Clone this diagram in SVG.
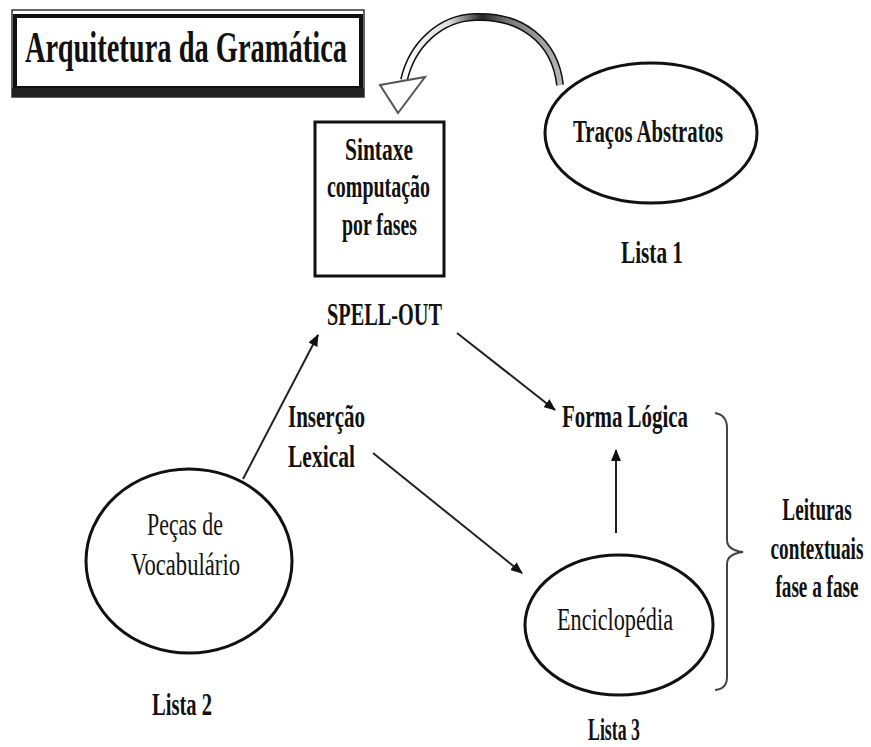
<svg xmlns="http://www.w3.org/2000/svg" width="871" height="747" viewBox="0 0 871 747">
<style>
text{font-family:"Liberation Serif","DejaVu Serif",serif;fill:#111}
.b{font-weight:bold}
.l{font-size:31px}
.node{fill:none;stroke:#111;stroke-width:3}
.con{stroke:#222;stroke-width:2;fill:none}
</style>
<defs>
<marker id="ah" markerWidth="12" markerHeight="10" refX="11" refY="5" orient="auto" markerUnits="userSpaceOnUse">
<path d="M0,0 L12,5 L0,10 Z" fill="#111"/>
</marker>
<linearGradient id="g" gradientUnits="userSpaceOnUse" x1="400" y1="0" x2="565" y2="0">
<stop offset="0" stop-color="#fff"/>
<stop offset="0.3" stop-color="#ddd"/>
<stop offset="0.5" stop-color="#222"/>
<stop offset="0.65" stop-color="#777"/>
<stop offset="1" stop-color="#bbb"/>
</linearGradient>
</defs>
<g id="title">
<rect x="12" y="10" width="352" height="87" fill="#fff" stroke="#333" stroke-width="1.5"/>
<rect x="15" y="16" width="346" height="72" fill="#fff" stroke="#111" stroke-width="4"/>
<rect x="12" y="88" width="352" height="9" fill="#222"/>
<text x="25" y="62" class="b" font-size="44" textLength="322" lengthAdjust="spacingAndGlyphs">Arquitetura da Gramática</text>
</g>
<g id="tracos">
<ellipse cx="651" cy="133" rx="106" ry="70" class="node"/>
<text x="573" y="142" class="b l" textLength="150" lengthAdjust="spacingAndGlyphs">Traços Abstratos</text>
<text x="621" y="263" class="b l" textLength="62" lengthAdjust="spacingAndGlyphs">Lista 1</text>
</g>
<g id="sintaxe">
<rect x="315" y="122" width="129" height="154" class="node"/>
<text x="345" y="160" class="b l" textLength="68" lengthAdjust="spacingAndGlyphs">Sintaxe</text>
<text x="327" y="197" class="b l" textLength="103" lengthAdjust="spacingAndGlyphs">computação</text>
<text x="342" y="235" class="b l" textLength="75" lengthAdjust="spacingAndGlyphs">por fases</text>
</g>
<g id="spellout">
<text x="327" y="325" class="b l" textLength="115" lengthAdjust="spacingAndGlyphs">SPELL-OUT</text>
</g>
<g id="insercao">
<text x="288" y="427" class="b l" textLength="77" lengthAdjust="spacingAndGlyphs">Inserção</text>
<text x="288" y="467" class="b l" textLength="67" lengthAdjust="spacingAndGlyphs">Lexical</text>
</g>
<g id="forma">
<text x="562" y="427" class="b l" textLength="126" lengthAdjust="spacingAndGlyphs">Forma Lógica</text>
</g>
<g id="pecas">
<ellipse cx="189" cy="561" rx="103" ry="92" class="node"/>
<text x="147" y="535" class="l" textLength="76" lengthAdjust="spacingAndGlyphs">Peças de</text>
<text x="131" y="575" class="l" textLength="109" lengthAdjust="spacingAndGlyphs">Vocabulário</text>
<text x="152" y="715" class="b l" textLength="60" lengthAdjust="spacingAndGlyphs">Lista 2</text>
</g>
<g id="enciclopedia">
<ellipse cx="619" cy="625" rx="94" ry="70" class="node"/>
<text x="557" y="630" class="l" textLength="116" lengthAdjust="spacingAndGlyphs">Enciclopédia</text>
<text x="588" y="740" class="b l" textLength="52" lengthAdjust="spacingAndGlyphs">Lista 3</text>
</g>
<g id="leituras" transform="translate(817,0) scale(0.62,1)">
<text x="0" y="520" class="b l" text-anchor="middle">Leituras</text>
<text x="0" y="559" class="b l" text-anchor="middle">contextuais</text>
<text x="0" y="597" class="b l" text-anchor="middle">fase a fase</text>
</g>
<g id="connectors">
<path d="M560,85 C555,40 520,15 475,17 C440,18 412,45 404,80" fill="none" stroke="#111" stroke-width="8"/>
<path d="M560,85 C555,40 520,15 475,17 C440,18 412,45 404,80" fill="none" stroke="url(#g)" stroke-width="5"/>
<polygon points="380,85 425,77 398,113" fill="#fff" stroke="#555" stroke-width="2"/>
<line x1="243" y1="479" x2="318" y2="335" class="con" marker-end="url(#ah)"/>
<line x1="457" y1="333" x2="555" y2="410" class="con" marker-end="url(#ah)"/>
<line x1="373" y1="453" x2="522" y2="573" class="con" marker-end="url(#ah)"/>
<line x1="616" y1="533" x2="616" y2="450" class="con" marker-end="url(#ah)"/>
<path d="M715,413 Q727,415 727,428 L727,540 Q727,550 743,552 Q727,554 727,564 L727,677 Q727,689 715,690" fill="none" stroke="#444" stroke-width="2"/>
</g>
</svg>
